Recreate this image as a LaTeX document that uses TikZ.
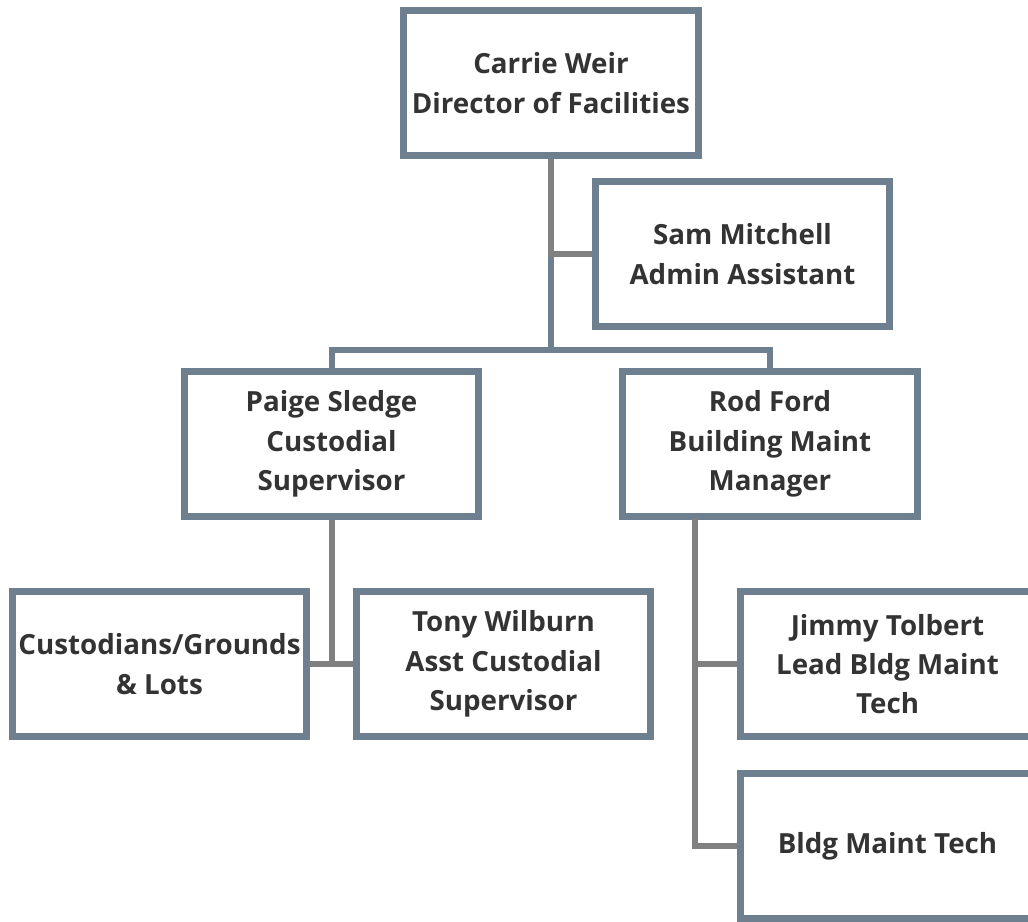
\documentclass[tikz,border=0pt]{standalone}
\usepackage{fontspec}
\setmainfont{Open Sans}
\usepackage{tikz}
\definecolor{boxline}{RGB}{110,128,143}
\definecolor{linkgray}{RGB}{128,128,128}
\definecolor{txt}{RGB}{51,51,51}
\newcommand{\drawlink}{\draw[line width=4.5pt, linkgray]}
\newcommand{\drawbar}{\draw[line width=4.5pt, boxline]}
\tikzset{
  person/.style={draw=boxline, line width=5.25pt, fill=white, text=txt,
    minimum width=221pt, minimum height=109pt, align=center,
    font=\fontsize{20.8}{29.5}\selectfont\bfseries, inner sep=0pt}
}
\begin{document}
\begin{tikzpicture}[x=0.75pt, y=-0.75pt]
\useasboundingbox (0,0) rectangle (1028,921);
\clip (0,0) rectangle (1028,921);
% boxes
\node[person] (carrie) at (551,83) {Carrie Weir\\Director of Facilities};
\node[person] (sam) at (742.5,254) {Sam Mitchell\\Admin Assistant};
\node[person] (paige) at (331.5,444) {Paige Sledge\\Custodial\\Supervisor};
\node[person] (rod) at (770,444) {Rod Ford\\Building Maint\\Manager};
\node[person] (cust) at (159.5,664) {Custodians/Grounds\\\& Lots};
\node[person] (tony) at (503.5,664) {Tony Wilburn\\Asst Custodial\\Supervisor};
\node[person] (jimmy) at (887.5,664) {Jimmy Tolbert\\Lead Bldg Maint\\Tech};
\node[person] (bldg) at (887.5,846) {Bldg Maint Tech};
\coordinate (bar) at (551,350);
\coordinate (rodstem) at (695,518);
% connectors
\drawbar (carrie.south) -- (bar);
\drawbar (paige.north) |- (bar) -| (rod.north);
\drawlink (carrie.south) |- (sam.west);
\drawlink (paige.south) -- (paige.south |- tony.west);
\drawlink (cust.east) -- (tony.west);
\drawlink (rodstem) |- (bldg.west);
\drawlink (rodstem |- jimmy.west) -- (jimmy.west);
\end{tikzpicture}
\end{document}
